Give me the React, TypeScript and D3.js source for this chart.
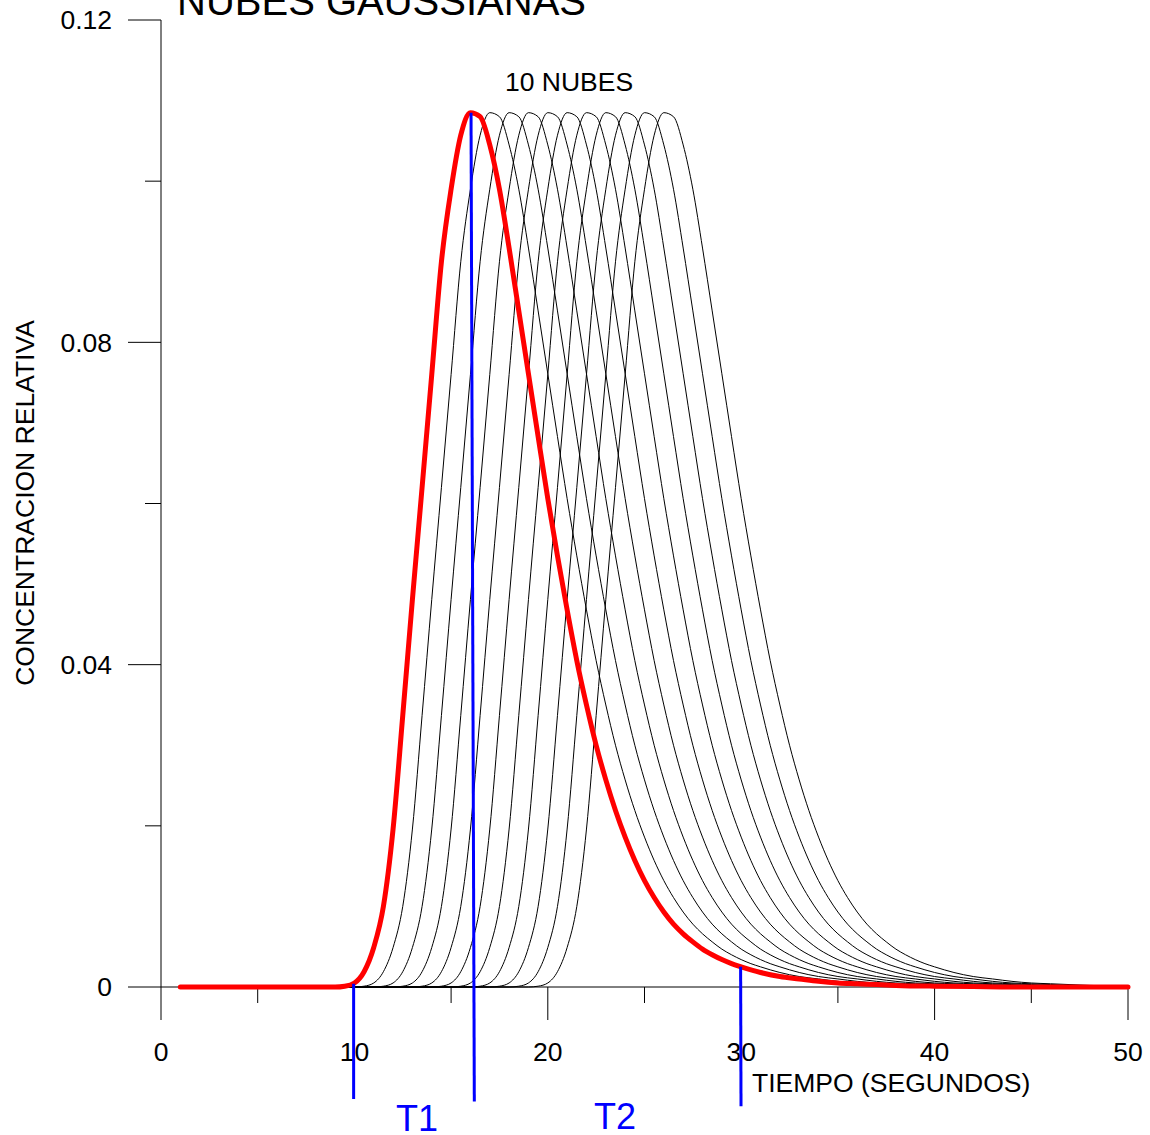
import React from 'react';
import * as d3 from 'd3';

const W = 1150;
const H = 1135;

// Axis ticks
const xTicksMajor = [0, 10, 20, 30, 40, 50];
const xTicksMinor = [5, 15, 25, 35, 45];
const yTicksMajor = [0, 0.04, 0.08, 0.12];
const yTickLabels = ['0', '0.04', '0.08', '0.12'];
const yTicksMinor = [0.02, 0.06, 0.1];

// Shape of one cloud (red curve)
const cloudTimes = [
  1, 2, 3, 4, 5, 6, 7, 8, 9, 9.5, 10, 10.5, 11, 11.5, 12, 12.5, 13, 13.5, 14, 14.5,
  15, 15.5, 16, 16.5, 17, 17.5, 18, 18.5, 19, 19.5, 20, 20.5, 21, 21.5, 22, 22.5,
  23, 23.5, 24, 24.5, 25, 25.5, 26, 26.5, 27, 27.5, 28, 28.5, 29, 29.5, 30, 31, 32,
  33, 34, 35, 36, 37, 38, 40, 42, 44, 46, 48, 50,
];
const cloudValues = [
  0, 0, 0, 0, 0, 0, 0, 0, 0, 0.0001, 0.0005, 0.0019, 0.0049, 0.01, 0.0196, 0.0337,
  0.0481, 0.062, 0.076, 0.09, 0.099, 0.1057, 0.1085, 0.108, 0.1045, 0.099, 0.0917,
  0.0839, 0.0761, 0.0683, 0.0606, 0.0535, 0.0468, 0.0405, 0.035, 0.03, 0.0257, 0.0219,
  0.0186, 0.0157, 0.0132, 0.0111, 0.0093, 0.0078, 0.0066, 0.0056, 0.0047, 0.004,
  0.0034, 0.0029, 0.0025, 0.0018, 0.0013, 0.001, 0.0007, 0.0005, 0.0004, 0.0003,
  0.0002, 0.0001, 0.00005, 0, 0, 0, 0,
];
// Start offsets (seconds) of the 10 black clouds relative to the red one
const cloudShifts = [1, 2, 3, 4, 5, 6, 7, 8, 9, 10];

// Blue marker lines
const markerTopTimes = [9.96, 16.03, 29.97];
const markerBottomTimes = [9.96, 16.2, 29.99];
const markerTopValues = [0.0004, 0.1085, 0.0025];
const markerBottomValues = [-0.0139, -0.0142, -0.0148];
const markerLabels = ['T1', 'T2'];

const FONT = "'Liberation Sans', Arial, Helvetica, sans-serif";

export default function App() {
  const x = d3.scaleLinear().domain([0, 50]).range([161, 1128]);
  const y = d3.scaleLinear().domain([0, 0.12]).range([987, 20]);

  const line = d3
    .line<[number, number]>()
    .x((d) => x(d[0]))
    .y((d) => y(d[1]))
    .curve(d3.curveMonotoneX);

  const redPts: [number, number][] = cloudTimes.map((t, i) => [t, cloudValues[i]]);

  const blackPaths = cloudShifts.map((s) => {
    const pts: [number, number][] = [[1, 0]];
    cloudTimes.forEach((t, i) => {
      if (t + s <= 50) pts.push([t + s, cloudValues[i]]);
    });
    if (pts[pts.length - 1][0] < 50) pts.push([50, 0]);
    return line(pts) as string;
  });

  return (
    <svg
      width={W}
      height={H}
      style={{ position: 'absolute', left: 0, top: 0, background: '#fff' }}
      fontFamily={FONT}
    >
      <rect x={0} y={0} width={W} height={H} fill="#fff" />
      {/* Title (cut at top, as in the reference) */}
      <text x={177} y={15} fontSize={40} fill="#000">
        NUBES GAUSSIANAS
      </text>
      <text x={505} y={91} fontSize={26.5} fill="#000">
        10 NUBES
      </text>

      {/* Y axis */}
      <line x1={x(0)} x2={x(0)} y1={y(0.12)} y2={y(0)} stroke="#000" strokeWidth={1} />
      {yTicksMajor.map((v, i) => (
        <g key={'ym' + v}>
          <line x1={x(0) - 33} x2={x(0)} y1={y(v)} y2={y(v)} stroke="#000" strokeWidth={1} />
          <text
            x={112}
            y={y(v)}
            dy="0.35em"
            textAnchor="end"
            fontSize={26.5}
            fill="#000"
          >
            {yTickLabels[i]}
          </text>
        </g>
      ))}
      {yTicksMinor.map((v) => (
        <line key={'yn' + v} x1={x(0) - 16} x2={x(0)} y1={y(v)} y2={y(v)} stroke="#000" strokeWidth={1} />
      ))}
      <text
        transform={`translate(34, ${(316 + 690) / 2}) rotate(-90)`}
        textAnchor="middle"
        fontSize={26.5}
        fill="#000"
      >
        CONCENTRACION RELATIVA
      </text>

      {/* X axis */}
      <line x1={x(0)} x2={x(50)} y1={y(0)} y2={y(0)} stroke="#000" strokeWidth={1} />
      {xTicksMajor.map((v) => (
        <g key={'xm' + v}>
          <line x1={x(v)} x2={x(v)} y1={y(0)} y2={y(0) + 33} stroke="#000" strokeWidth={1} />
          <text x={x(v)} y={1061} textAnchor="middle" fontSize={26.5} fill="#000">
            {v}
          </text>
        </g>
      ))}
      {xTicksMinor.map((v) => (
        <line key={'xn' + v} x1={x(v)} x2={x(v)} y1={y(0)} y2={y(0) + 16} stroke="#000" strokeWidth={1} />
      ))}
      <text x={752} y={1092} fontSize={26.5} fill="#000">
        TIEMPO (SEGUNDOS)
      </text>

      {/* Black clouds */}
      {blackPaths.map((d, i) => (
        <path key={'c' + i} d={d} fill="none" stroke="#000" strokeWidth={1} />
      ))}

      {/* Red cloud */}
      <path d={line(redPts) as string} fill="none" stroke="#ff0000" strokeWidth={5} strokeLinejoin="round" strokeLinecap="round" />

      {/* Blue markers */}
      {markerTopTimes.map((t, i) => (
        <line
          key={'mk' + i}
          x1={x(t)}
          y1={y(markerTopValues[i])}
          x2={x(markerBottomTimes[i])}
          y2={y(markerBottomValues[i])}
          stroke="#0000ff"
          strokeWidth={3}
        />
      ))}
      <text x={396} y={1131} fontSize={36} fill="#0000ff">
        {markerLabels[0]}
      </text>
      <text x={594} y={1129} fontSize={36} fill="#0000ff">
        {markerLabels[1]}
      </text>
    </svg>
  );
}
